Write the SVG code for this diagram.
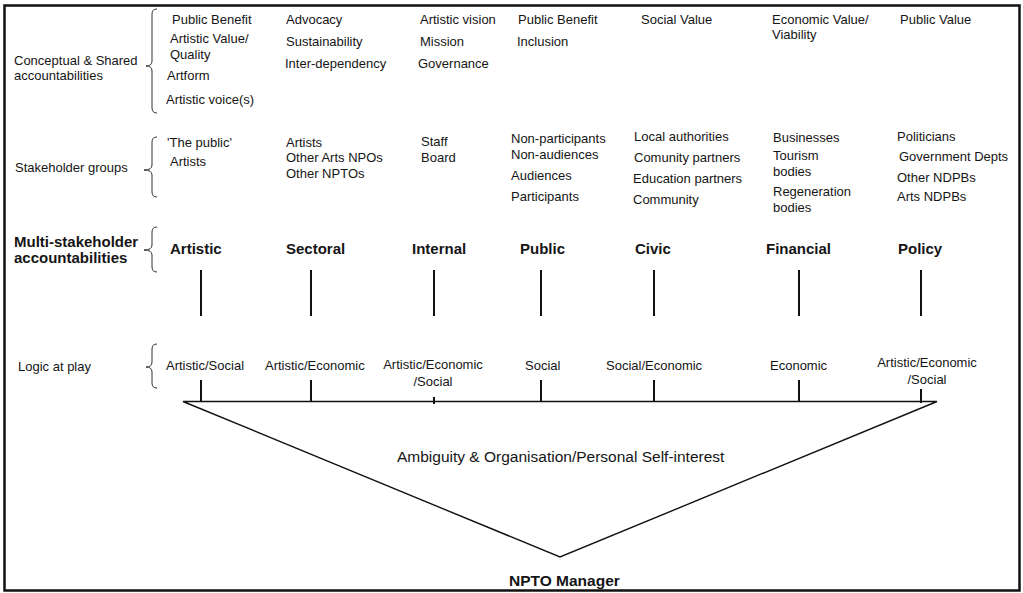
<svg xmlns="http://www.w3.org/2000/svg" width="1023" height="593" viewBox="0 0 1023 593">
<style>
text{font-family:"Liberation Sans",Arial,sans-serif;fill:#151515}
.t{font-size:13px}
.b{font-size:15px;font-weight:bold}
.brace{fill:none;stroke:#333;stroke-width:1}
.v{stroke:#111;stroke-width:2}
.l{stroke:#111;stroke-width:1.4;fill:none}
</style>
<rect x="4.5" y="5.5" width="1015" height="585" fill="#fff" stroke="#111" stroke-width="2.5"/>

<g id="row-labels">
<text class="t" x="14" y="65">Conceptual &amp; Shared</text>
<text class="t" x="14" y="80">accountabilities</text>
<text class="t" x="15" y="172">Stakeholder groups</text>
<text class="b" x="14" y="247">Multi-stakeholder</text>
<text class="b" x="14" y="263">accountabilities</text>
<text class="t" x="18" y="371">Logic at play</text>
</g>

<g id="braces">
<path class="brace" d="M157,9 Q152,9 152,14 L152,61 Q152,66 146,66 Q152,66 152,71 L152,108 Q152,113 157,113"/>
<path class="brace" d="M157,137 Q152,137 152,142 L152,165 Q152,170 144,170 Q152,170 152,175 L152,192 Q152,197 157,197"/>
<path class="brace" d="M157,227 Q152,227 152,232 L152,245 Q152,250 144,250 Q152,250 152,255 L152,267 Q152,272 157,272"/>
<path class="brace" d="M157,344 Q152,344 152,349 L152,362 Q152,367 146,367 Q152,367 152,372 L152,383 Q152,388 157,388"/>
</g>

<g id="conceptual">
<text class="t" x="172" y="24">Public Benefit</text>
<text class="t" x="170" y="43">Artistic Value/</text>
<text class="t" x="170" y="59">Quality</text>
<text class="t" x="167" y="80">Artform</text>
<text class="t" x="166" y="104">Artistic voice(s)</text>
<text class="t" x="286" y="24">Advocacy</text>
<text class="t" x="286" y="46">Sustainability</text>
<text class="t" x="285" y="68">Inter-dependency</text>
<text class="t" x="420" y="24">Artistic vision</text>
<text class="t" x="420" y="46">Mission</text>
<text class="t" x="418" y="68">Governance</text>
<text class="t" x="518" y="24">Public Benefit</text>
<text class="t" x="517" y="46">Inclusion</text>
<text class="t" x="641" y="24">Social Value</text>
<text class="t" x="772" y="24">Economic Value/</text>
<text class="t" x="772" y="39">Viability</text>
<text class="t" x="900" y="24">Public Value</text>
</g>

<g id="stakeholders">
<text class="t" x="167" y="147">'The public'</text>
<text class="t" x="170" y="166">Artists</text>
<text class="t" x="286" y="147">Artists</text>
<text class="t" x="286" y="162">Other Arts NPOs</text>
<text class="t" x="286" y="178">Other NPTOs</text>
<text class="t" x="421" y="146">Staff</text>
<text class="t" x="421" y="162">Board</text>
<text class="t" x="511" y="143">Non-participants</text>
<text class="t" x="511" y="159">Non-audiences</text>
<text class="t" x="511" y="180">Audiences</text>
<text class="t" x="511" y="201">Participants</text>
<text class="t" x="634" y="141">Local authorities</text>
<text class="t" x="634" y="162">Comunity partners</text>
<text class="t" x="633" y="183">Education partners</text>
<text class="t" x="633" y="204">Community</text>
<text class="t" x="773" y="142">Businesses</text>
<text class="t" x="773" y="160">Tourism</text>
<text class="t" x="773" y="176">bodies</text>
<text class="t" x="773" y="196">Regeneration</text>
<text class="t" x="773" y="212">bodies</text>
<text class="t" x="897" y="141">Politicians</text>
<text class="t" x="899" y="161">Government Depts</text>
<text class="t" x="897" y="182">Other NDPBs</text>
<text class="t" x="897" y="201">Arts NDPBs</text>
</g>

<g id="accountabilities">
<text class="b" x="170" y="254">Artistic</text>
<text class="b" x="286" y="254">Sectoral</text>
<text class="b" x="412" y="254">Internal</text>
<text class="b" x="520" y="254">Public</text>
<text class="b" x="635" y="254">Civic</text>
<text class="b" x="766" y="254">Financial</text>
<text class="b" x="898" y="254">Policy</text>
</g>

<g id="logic">
<text class="t" x="166" y="370">Artistic/Social</text>
<text class="t" x="265" y="370">Artistic/Economic</text>
<text class="t" x="433" y="369" text-anchor="middle">Artistic/Economic</text>
<text class="t" x="433" y="386" text-anchor="middle">/Social</text>
<text class="t" x="525" y="370">Social</text>
<text class="t" x="606" y="370">Social/Economic</text>
<text class="t" x="770" y="370">Economic</text>
<text class="t" x="927" y="367" text-anchor="middle">Artistic/Economic</text>
<text class="t" x="927" y="384" text-anchor="middle">/Social</text>
</g>

<g id="connectors">
<line class="v" x1="201" y1="270" x2="201" y2="316"/>
<line class="v" x1="311" y1="270" x2="311" y2="316"/>
<line class="v" x1="434" y1="270" x2="434" y2="316"/>
<line class="v" x1="541" y1="270" x2="541" y2="316"/>
<line class="v" x1="654" y1="270" x2="654" y2="316"/>
<line class="v" x1="799" y1="270" x2="799" y2="316"/>
<line class="v" x1="921" y1="270" x2="921" y2="316"/>
<line class="v" x1="201" y1="380" x2="201" y2="402"/>
<line class="v" x1="311" y1="380" x2="311" y2="402"/>
<line class="v" x1="434" y1="397" x2="434" y2="404"/>
<line class="v" x1="541" y1="380" x2="541" y2="402"/>
<line class="v" x1="654" y1="380" x2="654" y2="402"/>
<line class="v" x1="799" y1="380" x2="799" y2="402"/>
<line class="v" x1="921" y1="389" x2="921" y2="403"/>
<path class="l" d="M183,401.5 L937,401.5 L560,557 Z"/>
</g>

<g id="manager">
<text x="397" y="462" style="font-size:15.5px">Ambiguity &amp; Organisation/Personal Self-interest</text>
<text class="b" x="509" y="586" style="font-size:15.5px">NPTO Manager</text>
</g>
</svg>
